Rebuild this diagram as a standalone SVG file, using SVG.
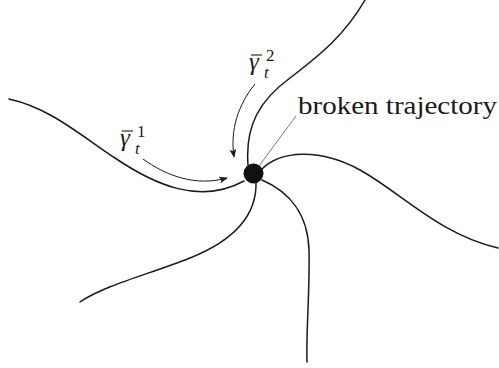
<svg xmlns="http://www.w3.org/2000/svg" width="499" height="368" viewBox="0 0 499 368">
<style>
.traj{fill:none;stroke:#1a1a1a;stroke-width:1.5;stroke-linecap:round}
.arr{fill:none;stroke:#1a1a1a;stroke-width:1;marker-end:url(#ah)}
.lead{fill:none;stroke:#555;stroke-width:0.8}
.bar{stroke:#1a1a1a;stroke-width:1.1}
text{font-family:"Liberation Serif","Times New Roman",serif !important;fill:#1a1a1a}
</style>
<defs>
<marker id="ah" viewBox="0 0 10 8" refX="9" refY="4" markerWidth="9" markerHeight="7" markerUnits="userSpaceOnUse" orient="auto">
<path d="M0,0 L10,4 L0,8 L2.5,4 Z" fill="#1a1a1a"/>
</marker>
</defs>
<rect width="499" height="368" fill="#fff"/>
<g id="connectors">
<path class="traj" d="M9,99 C50,108 80,135 115,158 C155,185 200,205 244,181"/>
<path class="traj" d="M365,0 C345,35 320,55 290,78 C260,100 245,125 248,165"/>
<path class="traj" d="M261,170 C280,150 320,148 360,170 C400,192 440,235 498,248"/>
<path class="traj" d="M262,180 C290,192 308,215 309,250 C310,290 306,330 307,362"/>
<path class="traj" d="M256,182 C257,215 235,240 190,258 C150,274 105,285 80,302"/>
<path class="arr" d="M143,159 C165,175 195,187 227,178"/>
<path class="arr" d="M255,84 C238,105 230,130 234,157"/>
<path class="lead" d="M259,166 L296,116"/>
</g>
<g id="node-junction">
<circle cx="253.5" cy="173.5" r="10" fill="#111"/>
</g>
<g id="label-broken">
<text x="298" y="114" font-family="Liberation Serif" font-size="26" textLength="199" lengthAdjust="spacingAndGlyphs">broken trajectory</text>
</g>
<g id="label-gamma1">
<line class="bar" x1="122" y1="131" x2="133" y2="131"/>
<text x="120" y="146" font-family="Liberation Serif" font-size="25" font-style="italic">γ</text>
<text x="135" y="154" font-family="Liberation Serif" font-size="17" font-style="italic">t</text>
<text x="137" y="137" font-family="Liberation Serif" font-size="17">1</text>
</g>
<g id="label-gamma2">
<line class="bar" x1="251" y1="55" x2="262" y2="55"/>
<text x="249" y="70" font-family="Liberation Serif" font-size="25" font-style="italic">γ</text>
<text x="264" y="78" font-family="Liberation Serif" font-size="17" font-style="italic">t</text>
<text x="266" y="61" font-family="Liberation Serif" font-size="17">2</text>
</g>
</svg>
